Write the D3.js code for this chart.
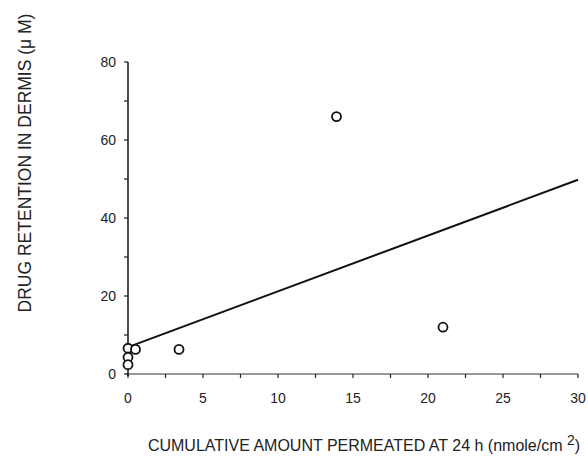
<!DOCTYPE html>
<html lang="en">

<head>
    <meta charset="utf-8">
    <title>Drug retention vs permeation</title>
    <script src="https://d3js.org/d3.v7.min.js"></script>
    <style>
        body { margin: 0; background: #fff; }
        text { font-family: "Liberation Sans", Arial, sans-serif; fill: #222; }
    </style>
</head>

<body>
    <script type="text/javascript">

        var w = 588;
        var h = 461;

        // data
        var permeated = [0, 0, 0, 0.5, 3.4, 13.9, 21.0];
        var retention = [6.6, 4.3, 2.4, 6.3, 6.3, 66.0, 12.0];
        var xTicks = [0, 5, 10, 15, 20, 25, 30];
        var yTicks = [0, 20, 40, 60, 80];
        var fitLine = [6.9, 1.43]; // intercept, slope

        var x = d3.scaleLinear().domain([0, 30]).range([128, 578]);
        var y = d3.scaleLinear().domain([0, 80]).range([374, 62]);

        var svg = d3.select("body")
            .append("svg")
            .attr("width", w)
            .attr("height", h);

        // x axis with minor ticks
        var xAxis = svg.append("g")
            .attr("transform", "translate(0," + y(0) + ")");
        xAxis.append("line")
            .attr("x1", x(0) - 2).attr("x2", x(30))
            .attr("stroke", "#333").attr("stroke-width", 1.2);
        xAxis.selectAll("line.tick")
            .data(d3.range(0, 30.1, 2.5))
            .enter()
            .append("line")
            .attr("class", "tick")
            .attr("x1", function (d) { return x(d); })
            .attr("x2", function (d) { return x(d); })
            .attr("y1", 0).attr("y2", 4)
            .attr("stroke", "#222").attr("stroke-width", 1.2);
        xAxis.selectAll("text")
            .data(xTicks)
            .enter()
            .append("text")
            .attr("x", function (d) { return x(d); })
            .attr("y", 29)
            .attr("text-anchor", "middle")
            .attr("font-size", 14)
            .text(function (d) { return d; });

        // y axis with minor ticks
        var yAxis = svg.append("g")
            .attr("transform", "translate(" + x(0) + ",0)");
        yAxis.append("line")
            .attr("y1", y(0) + 2).attr("y2", y(80))
            .attr("stroke", "#111").attr("stroke-width", 1.5);
        yAxis.selectAll("line.tick")
            .data(d3.range(0, 80.1, 10))
            .enter()
            .append("line")
            .attr("class", "tick")
            .attr("y1", function (d) { return y(d); })
            .attr("y2", function (d) { return y(d); })
            .attr("x1", -4).attr("x2", 0)
            .attr("stroke", "#222").attr("stroke-width", 1.2);
        yAxis.selectAll("text")
            .data(yTicks)
            .enter()
            .append("text")
            .attr("x", -12)
            .attr("y", function (d) { return y(d); })
            .attr("dy", "0.35em")
            .attr("text-anchor", "end")
            .attr("font-size", 14)
            .text(function (d) { return d; });

        // regression line
        svg.append("line")
            .attr("x1", x(0)).attr("y1", y(fitLine[0]))
            .attr("x2", x(30)).attr("y2", y(fitLine[0] + fitLine[1] * 30))
            .attr("stroke", "#111").attr("stroke-width", 2);

        // points
        svg.selectAll("circle")
            .data(permeated)
            .enter()
            .append("circle")
            .attr("cx", function (d) { return x(d); })
            .attr("cy", function (d, i) { return y(retention[i]); })
            .attr("r", 4.5)
            .attr("fill", "#fff")
            .attr("stroke", "#111")
            .attr("stroke-width", 1.8);

        // axis titles
        svg.append("text")
            .attr("transform", "translate(31,163) rotate(-90)")
            .attr("text-anchor", "middle")
            .attr("font-size", 17.5)
            .text("DRUG RETENTION IN DERMIS (\u03bc M)");

        var xt = svg.append("text")
            .attr("x", 364)
            .attr("y", 451)
            .attr("text-anchor", "middle")
            .attr("font-size", 16)
            .text("CUMULATIVE AMOUNT PERMEATED AT 24 h (nmole/cm ");
        xt.append("tspan")
            .attr("dy", -6)
            .attr("font-size", 14)
            .text("2");
        xt.append("tspan")
            .attr("dy", 6)
            .text(")");

    </script>
</body>

</html>
